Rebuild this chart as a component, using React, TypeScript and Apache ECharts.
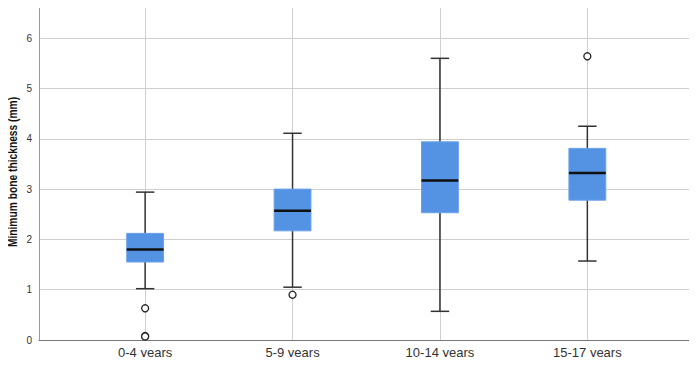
import React, { useEffect, useRef } from "react";
import * as echarts from "echarts";

const categories = ["0-4 years", "5-9 years", "10-14 years", "15-17 years"];
// [index, lower whisker, Q1, median, Q3, upper whisker]
const boxValues = [
  [0, 1.02, 1.55, 1.8, 2.12, 2.94],
  [1, 1.05, 2.17, 2.57, 3.0, 4.11],
  [2, 0.57, 2.53, 3.17, 3.94, 5.6],
  [3, 1.57, 2.78, 3.32, 3.81, 4.25],
];
const outliers = [
  [0, 0.63],
  [0, 0.08],
  [0, 0.07],
  [1, 0.9],
  [3, 5.64],
];
const yTicks = [0, 1, 2, 3, 4, 5, 6];
const yTitle = "Minimum bone thickness (mm)";

export default function App() {
  const ref = useRef<HTMLDivElement>(null);
  useEffect(() => {
    if (!ref.current) return;
    const chart = echarts.init(ref.current, null, { renderer: "svg" });
    const font = "Liberation Sans, Arial, sans-serif";
    chart.setOption({
      animation: false,
      backgroundColor: "#ffffff",
      grid: {
        left: 39,
        right: 5,
        top: 3,
        bottom: 25,
        containLabel: false,
        outerBoundsMode: "none",
      },
      graphic: [
        {
          type: "text",
          x: 12,
          y: 172,
          rotation: Math.PI / 2,
          scaleX: 0.76,
          style: {
            text: yTitle,
            fontSize: 13.5,
            fontWeight: "bold",
            fill: "#111",
            fontFamily: font,
            align: "center",
            verticalAlign: "middle",
          },
        },
      ],
      xAxis: {
        type: "value",
        min: -0.72,
        max: 3.71,
        axisLine: { show: true, onZero: false, lineStyle: { color: "#777", width: 1 } },
        axisTick: { show: false },
        splitLine: {
          show: true,
          showMinLine: false,
          showMaxLine: false,
          lineStyle: { color: "#cfcfcf", width: 1 },
        },
        axisLabel: {
          showMinLabel: false,
          showMaxLabel: false,
          color: "#333",
          fontSize: 13,
          fontFamily: font,
          margin: 6,
          formatter: (v: number) =>
            Number.isInteger(v) && categories[v] ? categories[v] : "",
        },
      },
      yAxis: {
        type: "value",
        min: 0,
        max: 6.7,
        interval: 1,
        axisLine: { show: true, onZero: false, lineStyle: { color: "#999", width: 1 } },
        axisTick: { show: false },
        splitLine: {
          show: true,
          showMaxLine: false,
          lineStyle: { color: "#cfcfcf", width: 1 },
        },
        axisLabel: {
          showMaxLabel: false,
          color: "#333",
          fontSize: 10,
          fontFamily: font,
          margin: 7,
          formatter: (v: number) => (yTicks.includes(v) ? String(v) : ""),
        },
      },
      series: [
        {
          type: "custom",
          data: boxValues,
          encode: { x: 0, y: [1, 2, 3, 4, 5] },
          z: 3,
          renderItem: (params: any, api: any) => {
            const x = api.value(0);
            const lo = api.coord([x, api.value(1)]);
            const q1 = api.coord([x, api.value(2)]);
            const med = api.coord([x, api.value(3)]);
            const q3 = api.coord([x, api.value(4)]);
            const hi = api.coord([x, api.value(5)]);
            const bw = api.size([1, 0])[0] * 0.25;
            const cw = bw / 2;
            const cx = med[0];
            return {
              type: "group",
              children: [
                {
                  type: "line",
                  shape: { x1: cx, y1: lo[1], x2: cx, y2: hi[1] },
                  style: { stroke: "#333", lineWidth: 1.5 },
                },
                {
                  type: "line",
                  shape: { x1: cx - cw / 2, y1: lo[1], x2: cx + cw / 2, y2: lo[1] },
                  style: { stroke: "#333", lineWidth: 1.5 },
                },
                {
                  type: "line",
                  shape: { x1: cx - cw / 2, y1: hi[1], x2: cx + cw / 2, y2: hi[1] },
                  style: { stroke: "#333", lineWidth: 1.5 },
                },
                {
                  type: "rect",
                  shape: { x: cx - bw / 2, y: q3[1], width: bw, height: q1[1] - q3[1] },
                  style: { fill: "#5493e3", stroke: "#6ba2e8", lineWidth: 1 },
                },
                {
                  type: "line",
                  shape: { x1: cx - bw / 2, y1: med[1], x2: cx + bw / 2, y2: med[1] },
                  style: { stroke: "#111", lineWidth: 2.5 },
                },
              ],
            };
          },
        },
        {
          type: "scatter",
          data: outliers,
          symbol: "circle",
          symbolSize: 7,
          z: 4,
          itemStyle: { color: "#ffffff", borderColor: "#222", borderWidth: 1.3, opacity: 1 },
        },
      ],
    });
    return () => chart.dispose();
  }, []);
  return <div ref={ref} style={{ width: 697, height: 365, margin: -8 }} />;
}
